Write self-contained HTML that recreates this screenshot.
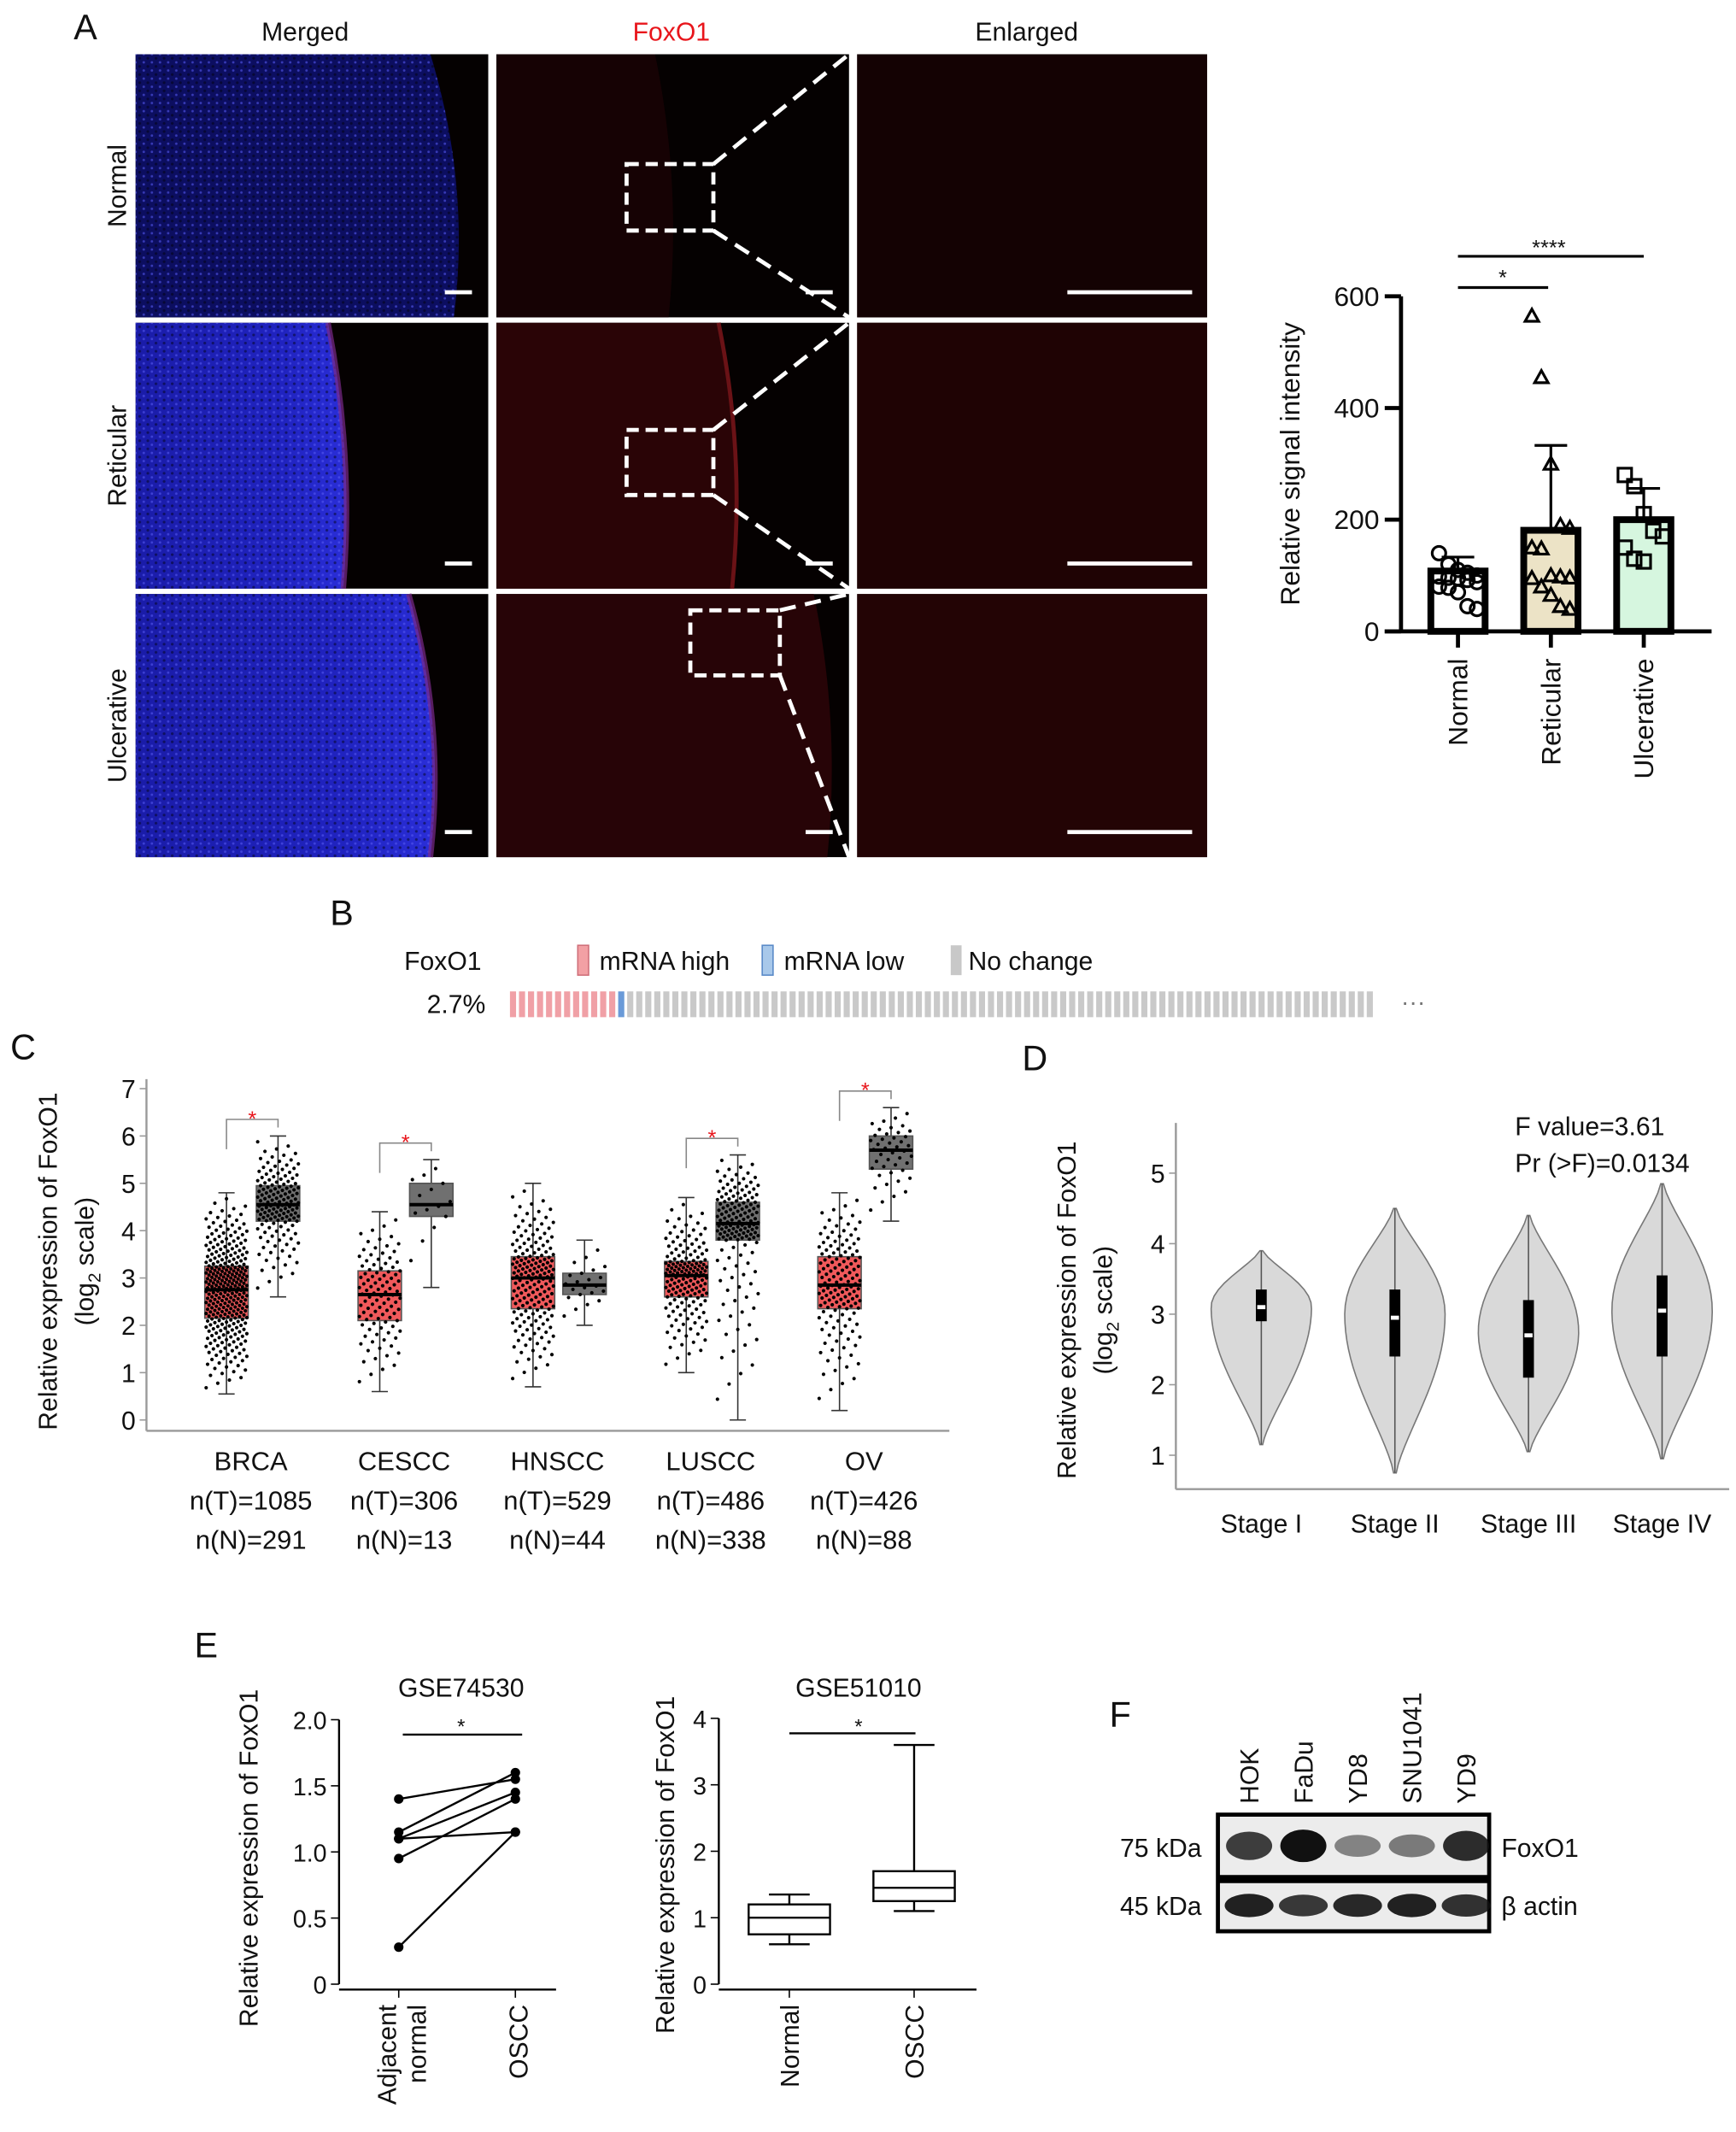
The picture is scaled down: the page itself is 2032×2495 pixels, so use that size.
<!DOCTYPE html>
<html><head><meta charset="utf-8"><style>
html,body{margin:0;padding:0;background:#fff}
svg{display:block;font-family:"Liberation Sans",Arial,sans-serif}
</style></head><body>
<svg id="fig" xmlns="http://www.w3.org/2000/svg" width="2032" height="2495" viewBox="0 0 1280 1572" preserveAspectRatio="none">
<defs>
<linearGradient id="blueA" x1="0" y1="0" x2="1" y2="0"><stop offset="0" stop-color="#1a1ca8"/><stop offset="0.7" stop-color="#2023c0"/><stop offset="1" stop-color="#2a2ed8"/></linearGradient>
<pattern id="noise" width="6" height="6" patternUnits="userSpaceOnUse"><rect width="6" height="6" fill="none"/><circle cx="1" cy="1" r="1" fill="#000" opacity="0.45"/><circle cx="4" cy="4" r="0.9" fill="#5558f0" opacity="0.6"/></pattern>
</defs>
<g id="panelA"></g>
<g id="barA"></g>
<g id="panelB"></g>
<g id="panelC"></g>
<g id="panelD"></g>
<g id="panelE"></g>
<g id="panelF"></g>
</svg>
<script>
const NS='http://www.w3.org/2000/svg';
function mk(p,tag,a,txt){const e=document.createElementNS(NS,tag);for(const k in a)e.setAttribute(k,a[k]);if(txt!==undefined)e.textContent=txt;p.appendChild(e);return e;}
function T(p,x,y,s,o){o=o||{};return mk(p,'text',Object.assign({x:x,y:y,'font-size':o.fs||19,'text-anchor':o.a||'middle',fill:o.fill||'#111'},o.tr?{transform:o.tr}:{}),s);}

// ===== Data =====
const barCats=['Normal','Reticular','Ulcerative'];
const barMeans=[108,181,200];
const barSD=[25,152,56];
const barPts=[[140,120,110,105,100,98,96,95,92,88,80,78,70,45,40],[565,455,300,190,185,150,148,100,98,96,95,80,65,45,40],[280,260,210,180,170,150,130,125]];
const barFill=['#ffffff','#ece3c6','#d6f6df'];
const barYTicks=[0,200,400,600];

const cCats=['BRCA','CESCC','HNSCC','LUSCC','OV'];
const cNT=[1085,306,529,486,426];
const cNN=[291,13,44,338,88];
const tumQ1=[2.15,2.1,2.35,2.6,2.35], tumMed=[2.75,2.65,3.0,3.05,2.85], tumQ3=[3.25,3.15,3.45,3.35,3.45], tumLo=[0.55,0.6,0.7,1.0,0.2], tumHi=[4.8,4.4,5.0,4.7,4.8];
const nrmQ1=[4.2,4.3,2.65,3.8,5.3], nrmMed=[4.55,4.55,2.85,4.15,5.7], nrmQ3=[4.95,5.0,3.1,4.6,6.0], nrmLo=[2.6,2.8,2.0,0.0,4.2], nrmHi=[6.0,5.5,3.8,5.6,6.6];
const cSig=[true,true,false,true,true];
const cYTicks=[0,1,2,3,4,5,6,7];

const dCats=['Stage I','Stage II','Stage III','Stage IV'];
const dMin=[1.15,0.75,1.05,0.95], dMax=[3.9,4.5,4.4,4.85], dMode=[3.1,3.0,2.75,3.05];
const dQ1=[2.9,2.4,2.1,2.4], dMed=[3.1,2.95,2.7,3.05], dQ3=[3.35,3.35,3.2,3.55];
const dYTicks=[1,2,3,4,5];

const eAdj=[1.4,1.15,1.1,0.95,1.1,0.28];
const eOscc=[1.55,1.6,1.45,1.4,1.15,1.15];
const eYTicks=[0,0.5,1.0,1.5,2.0];
const e2Cats=['Normal','OSCC'];
const e2Lo=[0.6,1.1], e2Q1=[0.75,1.25], e2Med=[1.0,1.45], e2Q3=[1.2,1.7], e2Hi=[1.35,3.6];
const e2YTicks=[0,1,2,3,4];

const fLanes=['HOK','FaDu','YD8','SNU1041','YD9'];
const fFox=[0.75,1.0,0.35,0.4,0.85];
const fAct=[0.9,0.75,0.85,0.9,0.8];

// ===== Panel A images =====
const A=document.getElementById('panelA');
T(A,63,29,'A',{fs:26,a:'middle'});
[['Merged',225,'#111'],['FoxO1',495,'#e8151b'],['Enlarged',757,'#111']].forEach(h=>{const t=T(A,h[1],30,h[0],{fill:h[2]});});
const rowsY=[[40,234],[238,434],[438,632]], cols=[[100,360],[366,626],[632,890]];
['Normal','Reticular','Ulcerative'].forEach((r,i)=>{const cy=(rowsY[i][0]+rowsY[i][1])/2;const t=T(A,93,cy,r,{tr:`rotate(-90 93 ${cy})`});});
const boxes=[[462,121,526,170],[462,317,526,365],[509,450,575,498]];
rowsY.forEach((ry,i)=>{
  cols.forEach((c,j)=>{
    const g=mk(A,'g',{});
    const w=c[1]-c[0],h=ry[1]-ry[0];
    mk(g,'rect',{x:c[0],y:ry[0],width:w,height:h,fill:j==2?'#120102':'#050101'});
    if(j==0){const edge=[0.95,0.62,0.88][i];
      const d=`M${c[0]} ${ry[0]} L${c[0]+w*edge*0.88} ${ry[0]} Q${c[0]+w*edge} ${ry[0]+h/2} ${c[0]+w*edge*0.95} ${ry[1]} L${c[0]} ${ry[1]} Z`;
      mk(g,'path',{d:d,fill:i==0?'#0c0e60':'url(#blueA)'});
      mk(g,'path',{d:d,fill:'url(#noise)'});
      if(i>0)mk(g,'path',{d:`M${c[0]+w*edge*0.88} ${ry[0]} Q${c[0]+w*edge} ${ry[0]+h/2} ${c[0]+w*edge*0.95} ${ry[1]}`,stroke:'#7a2a8a',fill:'none','stroke-width':4,opacity:0.7});
    }
    if(j==1){const edge=[0.45,0.63,0.9][i];
      mk(g,'path',{d:`M${c[0]} ${ry[0]} L${c[0]+w*edge} ${ry[0]} Q${c[0]+w*edge+20} ${ry[0]+h/2} ${c[0]+w*edge+10} ${ry[1]} L${c[0]} ${ry[1]} Z`,fill:['#160204','#2a0406','#270407'][i]});
      if(i==1)mk(g,'path',{d:`M${c[0]+w*edge} ${ry[0]} Q${c[0]+w*edge+20} ${ry[0]+h/2} ${c[0]+w*edge+10} ${ry[1]}`,stroke:'#6a1216',fill:'none','stroke-width':3});
    }
    if(j==2){mk(g,'rect',{x:c[0],y:ry[0],width:w,height:h,fill:['#140203','#1f0304','#230405'][i]});}
    if(j==2)mk(g,'rect',{x:787,y:ry[1]-20,width:92,height:3,fill:'#fff'});
    else mk(g,'rect',{x:c[1]-32,y:ry[1]-20,width:20,height:3,fill:'#fff'});
  });
  const b=boxes[i];
  mk(A,'rect',{x:b[0],y:b[1],width:b[2]-b[0],height:b[3]-b[1],fill:'none',stroke:'#fff','stroke-width':3,'stroke-dasharray':'9 5'});
  mk(A,'line',{x1:b[2],y1:b[1],x2:626,y2:ry[0],stroke:'#fff','stroke-width':3,'stroke-dasharray':'12 7'});
  mk(A,'line',{x1:b[2],y1:b[3],x2:626,y2:ry[1],stroke:'#fff','stroke-width':3,'stroke-dasharray':'12 7'});
});

// ===== Bar chart =====
(function(){
const G=document.getElementById('barA');
const x0=1033,yB=465.5,yT=218.5,vmax=600;
const ys=v=>yB-(v/vmax)*(yB-yT);
const cx=i=>1075+i*68.5;
mk(G,'line',{x1:x0,y1:yT,x2:x0,y2:yB,stroke:'#000','stroke-width':3});
mk(G,'line',{x1:x0-12,y1:yB,x2:1262,y2:yB,stroke:'#000','stroke-width':3});
barYTicks.forEach(v=>{mk(G,'line',{x1:x0-12,y1:ys(v),x2:x0,y2:ys(v),stroke:'#000','stroke-width':3});T(G,x0-16,ys(v)+7,String(v),{a:'end',fs:20});});
T(G,958,342,'Relative signal intensity',{fs:20,tr:'rotate(-90 958 342)'});
barCats.forEach((c,i)=>{
  const r=mk(G,'rect',{x:cx(i)-20,y:ys(barMeans[i]),width:40,height:yB-ys(barMeans[i]),fill:barFill[i],stroke:'#000','stroke-width':5});
  
  mk(G,'line',{x1:cx(i),y1:ys(barMeans[i]),x2:cx(i),y2:ys(barMeans[i]+barSD[i]),stroke:'#000','stroke-width':2});
  mk(G,'line',{x1:cx(i)-12,y1:ys(barMeans[i]+barSD[i]),x2:cx(i)+12,y2:ys(barMeans[i]+barSD[i]),stroke:'#000','stroke-width':2});
  mk(G,'line',{x1:cx(i),y1:yB,x2:cx(i),y2:yB+12,stroke:'#000','stroke-width':3});
  barPts[i].forEach((v,k)=>{const dx=((k%5)-2)*7;const y=ys(v);
    if(i==0)mk(G,'circle',{cx:cx(i)+dx,cy:y,r:5,fill:'none',stroke:'#000','stroke-width':2});
    else if(i==1)mk(G,'path',{d:`M${cx(i)+dx} ${y-5}L${cx(i)+dx+5} ${y+4}L${cx(i)+dx-5} ${y+4}Z`,fill:'none',stroke:'#000','stroke-width':2});
    else mk(G,'rect',{x:cx(i)+dx-5,y:y-5,width:10,height:10,fill:'none',stroke:'#000','stroke-width':2});
  });
  const t=T(G,cx(i)+7,yB+20,c,{a:'end',fs:20,tr:`rotate(-90 ${cx(i)+7} ${yB+20})`});
});
mk(G,'line',{x1:cx(0),y1:212,x2:cx(1)-2,y2:212,stroke:'#000','stroke-width':2});T(G,1108,210,'*',{fs:16});
mk(G,'line',{x1:cx(0),y1:189,x2:cx(2),y2:189,stroke:'#000','stroke-width':2});T(G,1142,188,'****',{fs:16});
})();

// ===== Panel B =====
(function(){
const G=document.getElementById('panelB');
T(G,252,682,'B',{fs:26});
T(G,298,715,'FoxO1',{a:'start'});
mk(G,'rect',{x:426,y:697,width:8,height:22,fill:'#f2a0a4',stroke:'#d0707a'});T(G,442,715,'mRNA high',{a:'start'});
mk(G,'rect',{x:562,y:697,width:8,height:22,fill:'#a8c8ea',stroke:'#5a8ac8'});T(G,578,715,'mRNA low',{a:'start'});
mk(G,'rect',{x:701,y:697,width:8,height:22,fill:'#c8c8c8'});T(G,714,715,'No change',{a:'start'});
T(G,358,747,'2.7%',{a:'end'});
for(let k=0;k<96;k++){const x=376+k*6.65;const col=k<12?'#f0a0a6':(k==12?'#6a9ad8':'#c9c9c9');mk(G,'rect',{x:x,y:731,width:4.5,height:19,fill:col});}
T(G,1042,745,'···',{fs:18,fill:'#777'});
})();

// ===== Panel C =====
(function(){
const G=document.getElementById('panelC');
T(G,17,781,'C',{fs:26});
const x0=108,y0=1047,u=34.9;const ys=v=>y0-v*u;
mk(G,'line',{x1:x0,y1:ys(7.2),x2:x0,y2:1055,stroke:'#999','stroke-width':1.5});
mk(G,'line',{x1:x0,y1:1055,x2:700,y2:1055,stroke:'#999','stroke-width':1.5});
cYTicks.forEach(v=>{mk(G,'line',{x1:x0-5,y1:ys(v),x2:x0,y2:ys(v),stroke:'#999'});T(G,x0-8,ys(v)+7,String(v),{a:'end',fs:19});});
T(G,42,930,'Relative expression of FoxO1',{fs:19,tr:'rotate(-90 42 930)'});
const tt=T(G,69,930,'(log',{fs:19,tr:'rotate(-90 69 930)'});mk(tt,'tspan',{'font-size':13,dy:5},'2');mk(tt,'tspan',{dy:-5},' scale)');
function box(cx,lo,q1,md,q3,hi,fill,n,name){
  const g=mk(G,'g',{});
  mk(g,'line',{x1:cx,y1:ys(lo),x2:cx,y2:ys(hi),stroke:'#333'});
  mk(g,'line',{x1:cx-6,y1:ys(lo),x2:cx+6,y2:ys(lo),stroke:'#333'});mk(g,'line',{x1:cx-6,y1:ys(hi),x2:cx+6,y2:ys(hi),stroke:'#333'});
  mk(g,'rect',{x:cx-16,y:ys(q3),width:32,height:ys(q1)-ys(q3),fill:fill,stroke:'#555'});
  for(let k=0;k<n;k++){const p=(k+0.5)/n;let v;
    if(p<0.25)v=lo+(q1-lo)*Math.sqrt(p/0.25);else if(p<0.5)v=q1+(md-q1)*(p-0.25)/0.25;else if(p<0.75)v=md+(q3-md)*(p-0.5)/0.25;else v=q3+(hi-q3)*(1-Math.sqrt((1-p)/0.25));
    const dx=(((k*37)%29)/28-0.5)*30;mk(g,'circle',{cx:cx+dx,cy:ys(v),r:1.3,fill:'#000'});}
  mk(g,'line',{x1:cx-16,y1:ys(md),x2:cx+16,y2:ys(md),stroke:'#000','stroke-width':2.5});
}
cCats.forEach((c,i)=>{const cx=185+i*113;
  box(cx-18,tumLo[i],tumQ1[i],tumMed[i],tumQ3[i],tumHi[i],'#f0595b',Math.min(300,Math.round(cNT[i]/3)),'tumor-box-'+c.toLowerCase());
  box(cx+20,nrmLo[i],nrmQ1[i],nrmMed[i],nrmQ3[i],nrmHi[i],'#707070',Math.min(150,Math.max(14,Math.round(cNN[i]/2))),'normal-box-'+c.toLowerCase());
  if(cSig[i]){const yy=ys(Math.max(tumHi[i],nrmHi[i])+0.35);
    mk(G,'path',{d:`M${cx-18} ${yy+22}V${yy}H${cx+20}V${yy+6}`,fill:'none',stroke:'#888'});T(G,cx+1,yy+5,'*',{fs:16,fill:'#e8151b'});}
  T(G,cx,1084,c,{fs:19.5});T(G,cx,1113,'n(T)='+cNT[i],{fs:19.5});T(G,cx,1142,'n(N)='+cNN[i],{fs:19.5});
});
})();

// ===== Panel D =====
(function(){
const G=document.getElementById('panelD');
T(G,763,789,'D',{fs:26});
const x0=867,ys=v=>1125-v*52;
mk(G,'line',{x1:x0,y1:828,x2:x0,y2:1098,stroke:'#999','stroke-width':1.5});
mk(G,'line',{x1:x0,y1:1098,x2:1275,y2:1098,stroke:'#999','stroke-width':1.5});
dYTicks.forEach(v=>{mk(G,'line',{x1:x0-5,y1:ys(v),x2:x0,y2:ys(v),stroke:'#999'});T(G,x0-8,ys(v)+7,String(v),{a:'end',fs:19});});
T(G,793,966,'Relative expression of FoxO1',{fs:19,tr:'rotate(-90 793 966)'});
const tt=T(G,820,966,'(log',{fs:19,tr:'rotate(-90 820 966)'});mk(tt,'tspan',{'font-size':13,dy:5},'2');mk(tt,'tspan',{dy:-5},' scale)');
T(G,1117,837,'F value=3.61',{a:'start',fs:19});T(G,1117,864,'Pr (>F)=0.0134',{a:'start',fs:19});
dCats.forEach((c,i)=>{const cx=930+i*98.5,W=36;
  let L=[],R=[];const N=30;
  for(let k=0;k<=N;k++){const v=dMin[i]+(dMax[i]-dMin[i])*k/N;const t=v<dMode[i]?(v-dMin[i])/(dMode[i]-dMin[i]):(dMax[i]-v)/(dMax[i]-dMode[i]);const w=W*Math.pow(Math.sin(Math.PI/2*t),1.3)+1;L.push(`${cx-w},${ys(v)}`);R.unshift(`${cx+w},${ys(v)}`);}
  const p=mk(G,'polygon',{points:L.concat(R).join(' '),fill:'#d9d9d9',stroke:'#777','stroke-width':1});
  
  mk(G,'line',{x1:cx,y1:ys(dMin[i]),x2:cx,y2:ys(dMax[i]),stroke:'#555'});
  mk(G,'rect',{x:cx-4,y:ys(dQ3[i]),width:8,height:ys(dQ1[i])-ys(dQ3[i]),fill:'#000'});
  mk(G,'rect',{x:cx-3,y:ys(dMed[i])-1.5,width:6,height:3,fill:'#fff'});
  T(G,cx,1130,c,{fs:19});
});
})();

// ===== Panel E =====
(function(){
const G=document.getElementById('panelE');
T(G,152,1222,'E',{fs:26});
let x0=250,ys=v=>1463-v*97.5;
mk(G,'line',{x1:x0,y1:ys(2),x2:x0,y2:ys(0),stroke:'#000','stroke-width':1.5});
mk(G,'line',{x1:x0,y1:1467,x2:410,y2:1467,stroke:'#000','stroke-width':1.5});
eYTicks.forEach(v=>{mk(G,'line',{x1:x0-6,y1:ys(v),x2:x0,y2:ys(v),stroke:'#000'});T(G,x0-9,ys(v)+7,v===0?'0':v.toFixed(1),{a:'end',fs:18});});
T(G,190,1370,'Relative expression of FoxO1',{fs:19,tr:'rotate(-90 190 1370)'});
T(G,340,1251,'GSE74530',{fs:19});
mk(G,'line',{x1:297,y1:1279,x2:385,y2:1279,stroke:'#000','stroke-width':1.5});T(G,340,1278,'*',{fs:15});
eAdj.forEach((v,i)=>{mk(G,'line',{x1:294,y1:ys(v),x2:380,y2:ys(eOscc[i]),stroke:'#000','stroke-width':1.5});mk(G,'circle',{cx:294,cy:ys(v),r:3.5,fill:'#000'});mk(G,'circle',{cx:380,cy:ys(eOscc[i]),r:3.5,fill:'#000'});});
[294,380].forEach(x=>mk(G,'line',{x1:x,y1:1467,x2:x,y2:1473,stroke:'#000'}));
T(G,292,1478,'Adjacent',{a:'end',fs:19,tr:'rotate(-90 292 1478)'});T(G,314,1478,'normal',{a:'end',fs:19,tr:'rotate(-90 314 1478)'});
T(G,389,1478,'OSCC',{a:'end',fs:19,tr:'rotate(-90 389 1478)'});
x0=530;ys=v=>1463-v*49;
mk(G,'line',{x1:x0,y1:ys(4),x2:x0,y2:ys(0),stroke:'#000','stroke-width':1.5});
mk(G,'line',{x1:x0,y1:1467,x2:720,y2:1467,stroke:'#000','stroke-width':1.5});
e2YTicks.forEach(v=>{mk(G,'line',{x1:x0-6,y1:ys(v),x2:x0,y2:ys(v),stroke:'#000'});T(G,x0-9,ys(v)+7,String(v),{a:'end',fs:18});});
T(G,497,1375,'Relative expression of FoxO1',{fs:19,tr:'rotate(-90 497 1375)'});
T(G,633,1251,'GSE51010',{fs:19});
mk(G,'line',{x1:582,y1:1278,x2:675,y2:1278,stroke:'#000','stroke-width':1.5});T(G,633,1278,'*',{fs:15});
e2Cats.forEach((c,i)=>{const cx=582+i*92;
  mk(G,'line',{x1:cx,y1:ys(e2Lo[i]),x2:cx,y2:ys(e2Hi[i]),stroke:'#000','stroke-width':1.5});
  mk(G,'line',{x1:cx-15,y1:ys(e2Lo[i]),x2:cx+15,y2:ys(e2Lo[i]),stroke:'#000','stroke-width':1.5});
  mk(G,'line',{x1:cx-15,y1:ys(e2Hi[i]),x2:cx+15,y2:ys(e2Hi[i]),stroke:'#000','stroke-width':1.5});
  mk(G,'rect',{x:cx-30,y:ys(e2Q3[i]),width:60,height:ys(e2Q1[i])-ys(e2Q3[i]),fill:'#fff',stroke:'#000','stroke-width':1.5});
  mk(G,'line',{x1:cx-30,y1:ys(e2Med[i]),x2:cx+30,y2:ys(e2Med[i]),stroke:'#000','stroke-width':1.5});
  mk(G,'line',{x1:cx,y1:1467,x2:cx,y2:1473,stroke:'#000'});
  T(G,cx+7,1478,c,{a:'end',fs:19,tr:`rotate(-90 ${cx+7} 1478)`});
});
})();

// ===== Panel F =====
(function(){
const G=document.getElementById('panelF');
T(G,826,1273,'F',{fs:26});
const lx=i=>921+i*40;
fLanes.forEach((l,i)=>T(G,lx(i)+7,1330,l,{a:'start',fs:19,tr:`rotate(-90 ${lx(i)+7} 1330)`}));
mk(G,'rect',{x:898,y:1338,width:200,height:46,fill:'#ececec',stroke:'#000','stroke-width':3});
mk(G,'rect',{x:898,y:1387,width:200,height:37,fill:'#ececec',stroke:'#000','stroke-width':3});
fLanes.forEach((l,i)=>{
  const b=mk(G,'ellipse',{cx:lx(i),cy:1361,rx:17,ry:6+6*fFox[i],fill:'#111',opacity:0.2+0.8*fFox[i]});
  const a=mk(G,'ellipse',{cx:lx(i),cy:1405,rx:18,ry:5+4*fAct[i],fill:'#111',opacity:0.3+0.7*fAct[i]});
});
T(G,886,1369,'75 kDa',{a:'end',fs:19});T(G,886,1412,'45 kDa',{a:'end',fs:19});
T(G,1107,1369,'FoxO1',{a:'start',fs:19});T(G,1107,1412,'β actin',{a:'start',fs:19});
})();
</script>
</body></html>
